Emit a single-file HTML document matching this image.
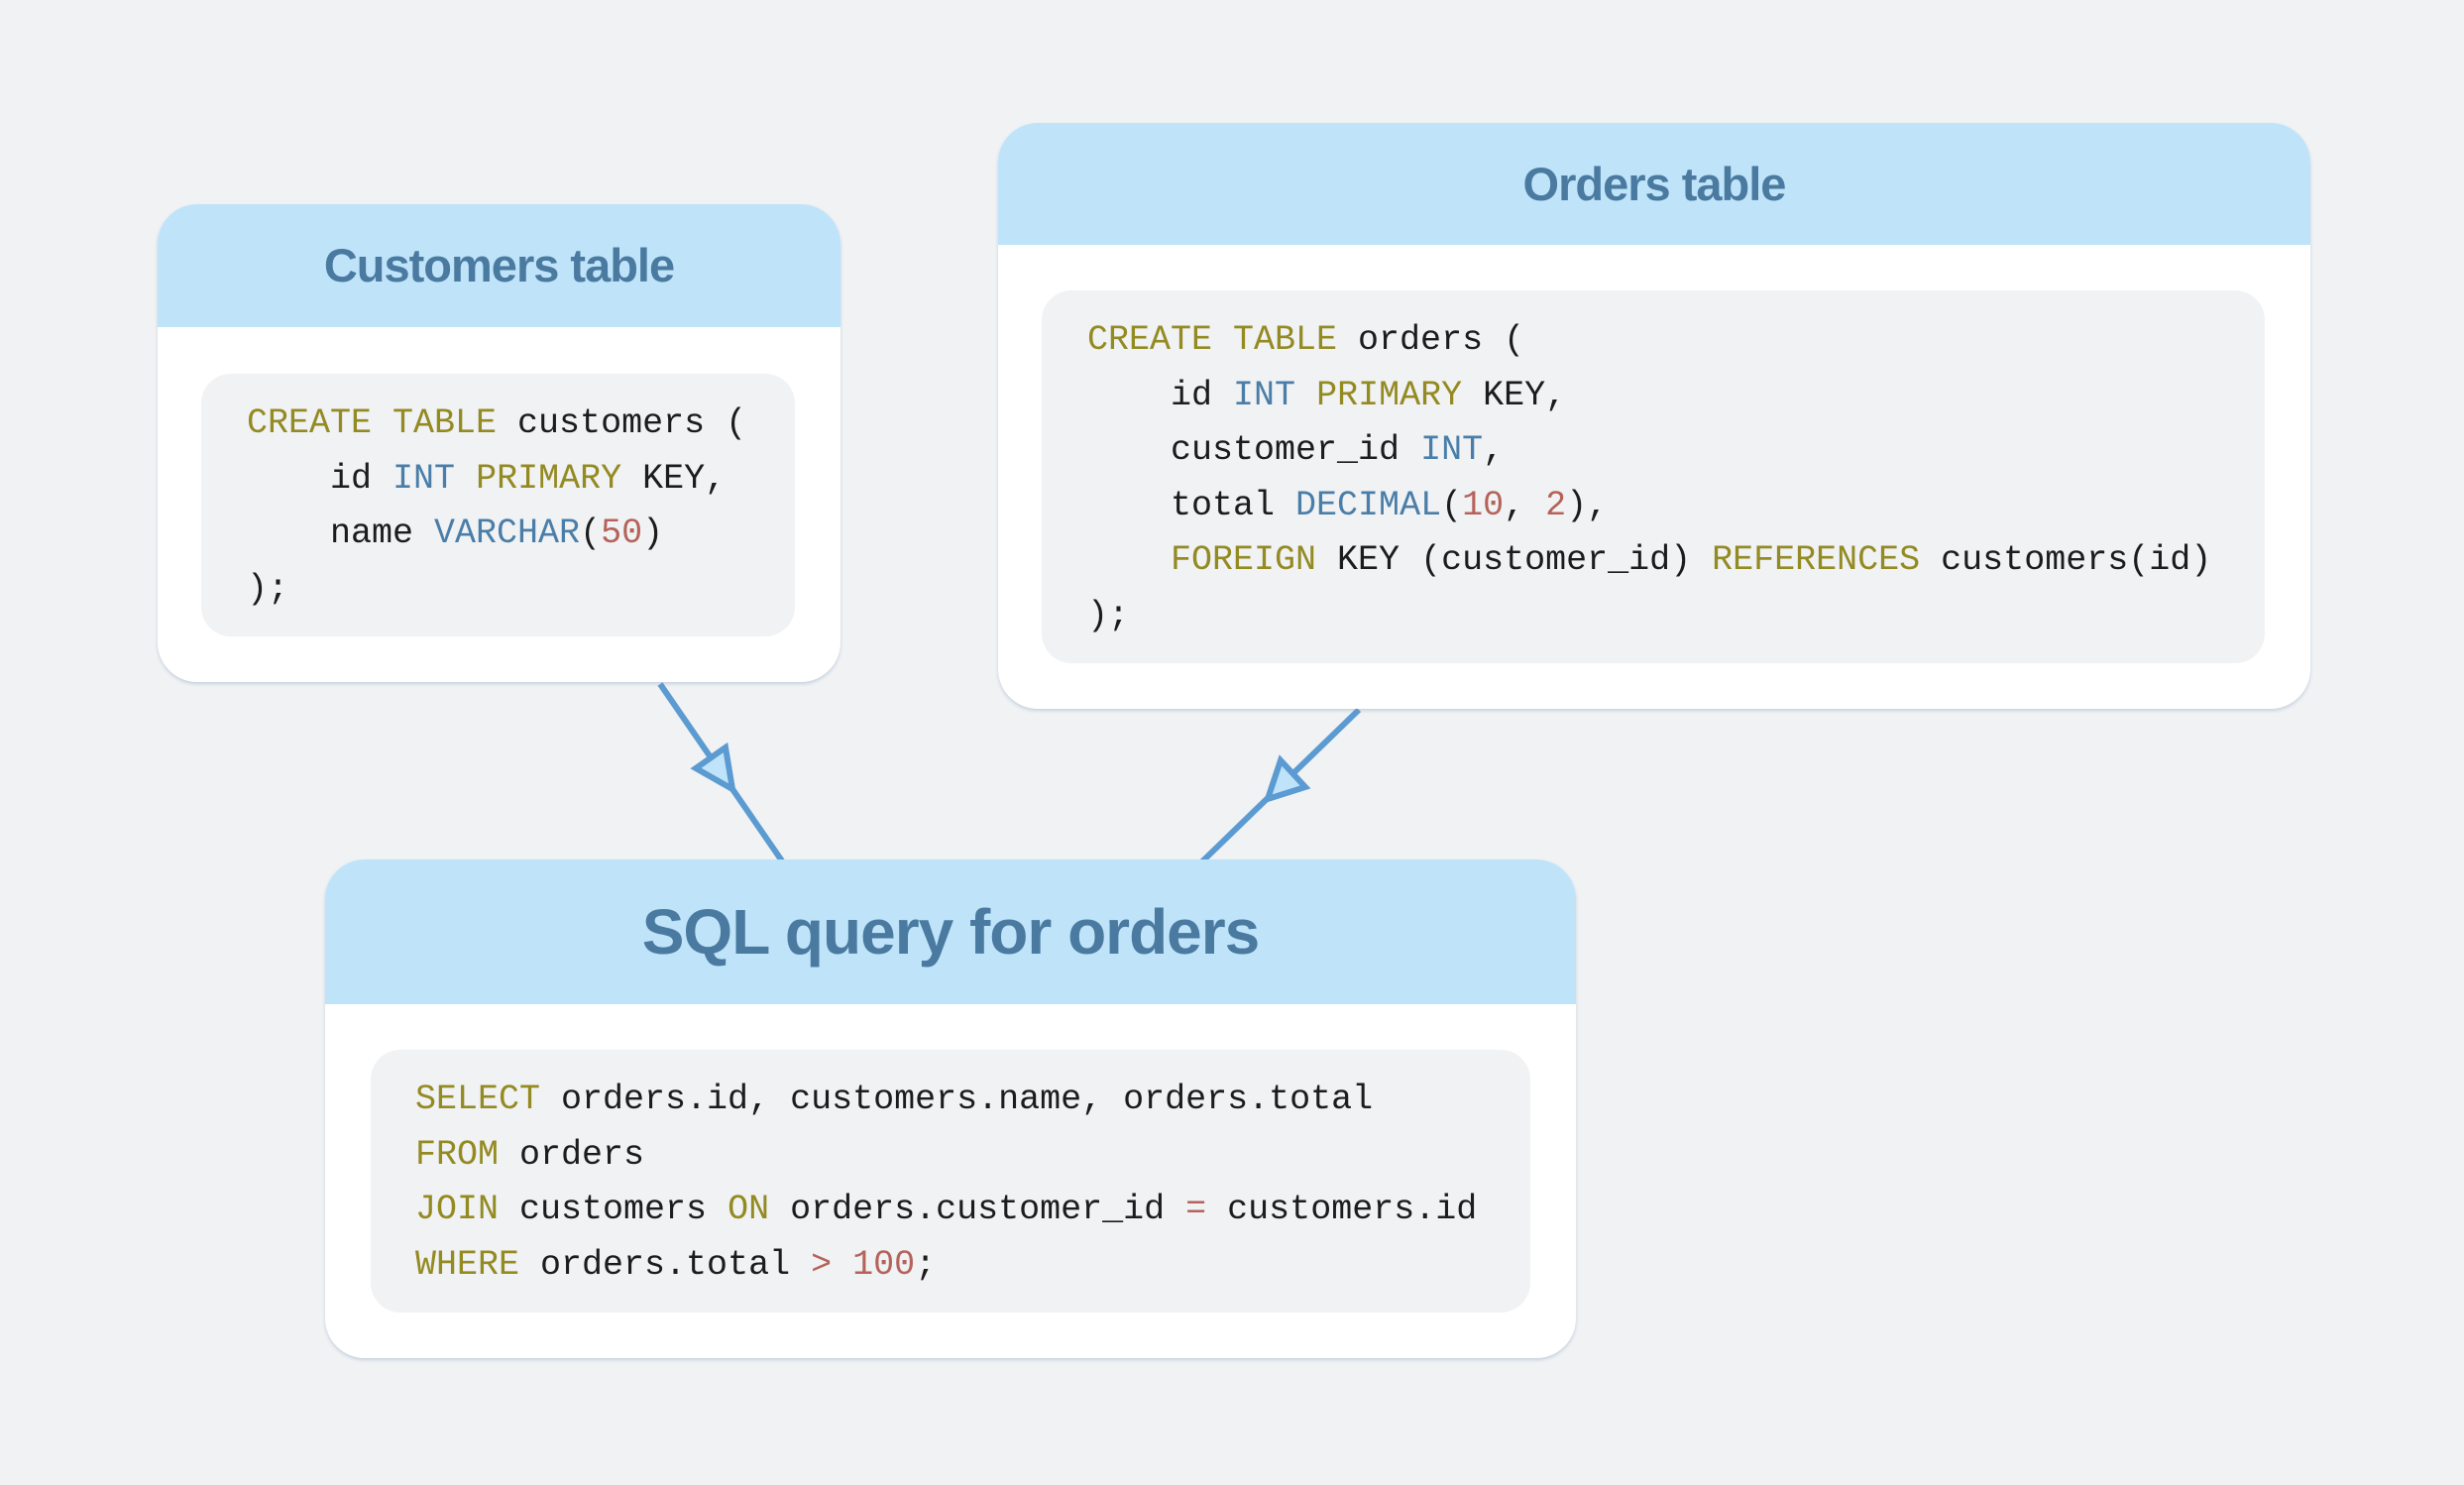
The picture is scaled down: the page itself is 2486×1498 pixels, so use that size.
<!DOCTYPE html>
<html><head><style>
body{margin:0;width:2486px;height:1498px;background:#f0f2f4;position:relative;overflow:hidden;font-family:"Liberation Sans",sans-serif}
.card{position:absolute;background:#fff;border-radius:40px;overflow:hidden;box-shadow:0 2px 3px rgba(120,150,180,.35)}
.hd{position:absolute;left:0;right:0;top:0;background:#bfe3f9;color:#4a7aa0;font-weight:bold;text-align:center;letter-spacing:-1px}
.code{position:absolute;background:#f0f2f4;border-radius:30px}
pre{position:absolute;margin:0;font-family:"Liberation Mono",monospace;font-size:35px;line-height:55.5px;color:#1c1c1c}
.k{color:#948a22}.t{color:#4a7ea8}.n{color:#b5625a}
</style></head><body>
<svg width="2486" height="1498" style="position:absolute;left:0;top:0">
<g stroke="#5b9bd1" stroke-width="6" fill="#bfe3f9">
<line x1="666" y1="690" x2="790" y2="870"/>
<line x1="1371" y1="716" x2="1212" y2="870"/>
<polygon points="732,754 702,775 739,796"/>
<polygon points="1292,767 1279,806 1317,794"/>
</g></svg>

<div class="card" style="left:159px;top:206px;width:689px;height:482px">
<div class="hd" style="height:124px;line-height:124px;font-size:47px">Customers table</div>
<div class="code" style="left:44px;top:171px;width:599px;height:265px"></div>
<pre style="left:90px;top:194px"><span class="k">CREATE TABLE</span> customers (
    id <span class="t">INT</span> <span class="k">PRIMARY</span> KEY,
    name <span class="t">VARCHAR</span>(<span class="n">50</span>)
);</pre>
</div>

<div class="card" style="left:1007px;top:124px;width:1324px;height:591px">
<div class="hd" style="height:123px;line-height:123px;font-size:47px">Orders table</div>
<div class="code" style="left:44px;top:169px;width:1234px;height:376px"></div>
<pre style="left:90px;top:192px"><span class="k">CREATE TABLE</span> orders (
    id <span class="t">INT</span> <span class="k">PRIMARY</span> KEY,
    customer_id <span class="t">INT</span>,
    total <span class="t">DECIMAL</span>(<span class="n">10</span>, <span class="n">2</span>),
    <span class="k">FOREIGN</span> KEY (customer_id) <span class="k">REFERENCES</span> customers(id)
);</pre>
</div>

<div class="card" style="left:328px;top:867px;width:1262px;height:503px">
<div class="hd" style="height:146px;line-height:146px;font-size:64px">SQL query for orders</div>
<div class="code" style="left:46px;top:192px;width:1170px;height:265px"></div>
<pre style="left:91px;top:215px"><span class="k">SELECT</span> orders.id, customers.name, orders.total
<span class="k">FROM</span> orders
<span class="k">JOIN</span> customers <span class="k">ON</span> orders.customer_id <span class="n">=</span> customers.id
<span class="k">WHERE</span> orders.total <span class="n">&gt;</span> <span class="n">100</span>;</pre>
</div>
</body></html>
